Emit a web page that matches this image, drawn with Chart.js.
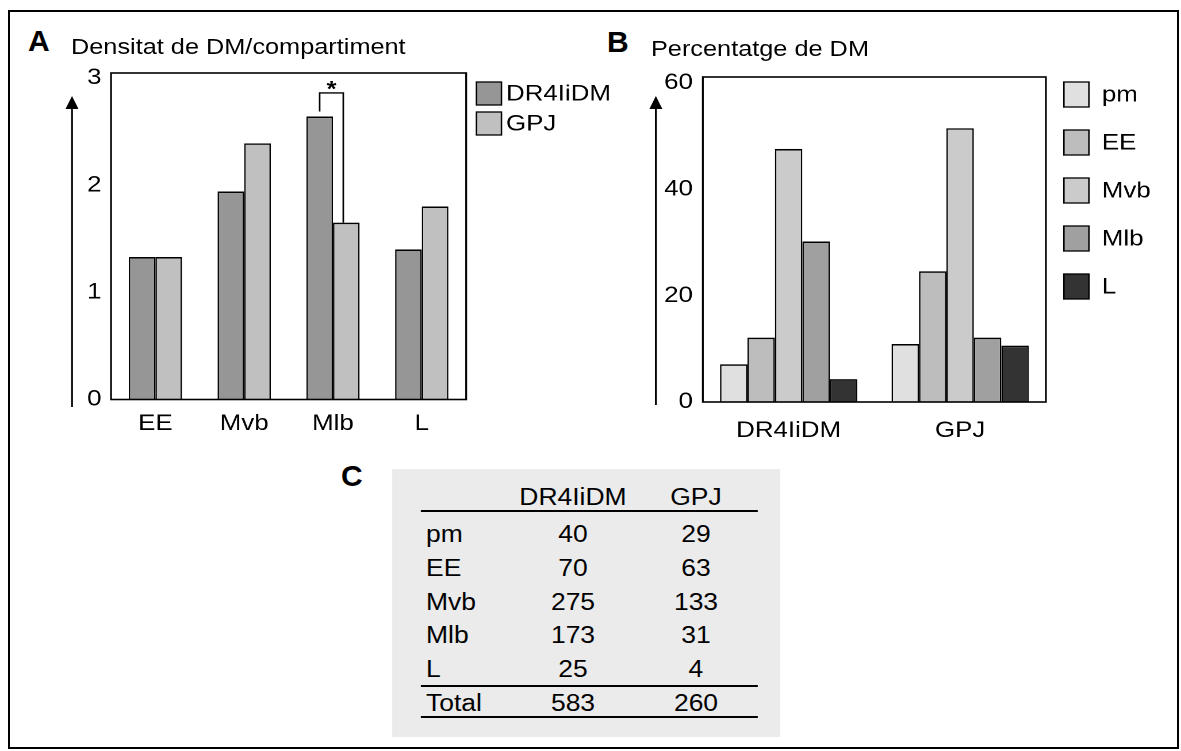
<!DOCTYPE html>
<html>
<head>
<meta charset="utf-8">
<title>Densitat i percentatge de DM</title>
<script src="https://cdn.jsdelivr.net/npm/chart.js@4.4.1/dist/chart.umd.min.js"></script>
<style>
  body { margin: 0; background: #fff; color: #000; font-family: "Liberation Sans", Arial, sans-serif; }
  #page { position: relative; width: 1181px; height: 751px; overflow: hidden; }
  #border { position: absolute; left: 8px; top: 10px; width: 1167px; height: 735px; border: 2px solid #000; }
  .letter { position: absolute; font-weight: bold; font-size: 30px; line-height: 30px; }
  /* la figura original esta estirada en horitzontal: l'escenari s'escala amb SX */
  #stage { position: absolute; left: 0; top: 0; height: 751px; transform-origin: 0 0; }
  .title { position: absolute; font-size: 22px; line-height: 30px; white-space: nowrap; }
  canvas { position: absolute; top: 0; }
  #tableBg { position: absolute; background: #ebebeb; }
  .cell { position: absolute; font-size: 23px; line-height: 30px; height: 30px; white-space: nowrap; }
  .num { text-align: center; }
  .rule { position: absolute; height: 2px; background: #000; }
</style>
</head>
<body>
<div id="page">
  <div id="border"></div>
  <div class="letter" style="left:28px; top:26px;">A</div>
  <div class="letter" style="left:607px; top:27px;">B</div>
  <div class="letter" style="left:341px; top:461px;">C</div>
  <div id="stage">
    <div class="title" id="titleA">Densitat de DM/compartiment</div>
    <div class="title" id="titleB">Percentatge de DM</div>
    <canvas id="chartA"></canvas>
    <canvas id="chartB"></canvas>
    <div id="tableBg"></div>
    <div id="tableC"></div>
  </div>
</div>
<script>
// 数据 - A
const A_CATEGORIES = ['EE', 'Mvb', 'Mlb', 'L'];
const A_DR4 = [1.33, 1.94, 2.64, 1.40];
const A_GPJ = [1.33, 2.39, 1.65, 1.80];
const A_TICKS = [0, 1, 2, 3];
const SIG_INDEX = 2;      // Mlb
const SIG_LEVEL = 2.86;

// 数据 - B
const B_GROUPS = ['DR4IiDM', 'GPJ'];
const B_COMPARTMENTS = ['pm', 'EE', 'Mvb', 'Mlb', 'L'];
const B_PM = [7.1, 10.9];
const B_EE = [12.1, 24.6];
const B_MVB = [47.6, 51.5];
const B_MLB = [30.2, 12.1];
const B_L = [4.3, 10.6];
const B_TICKS = [0, 20, 40, 60];

// 数据 - C
const TABLE_HEAD = ['DR4IiDM', 'GPJ'];
const TABLE_ROWS = ['pm', 'EE', 'Mvb', 'Mlb', 'L'];
const COUNT_DR4 = [40, 70, 275, 173, 25];
const COUNT_GPJ = [29, 63, 133, 31, 4];
const COUNT_TOTAL = [583, 260];

// 水平拉伸系数: 页面像素 -> 画布像素
const SX = 1.15;
const u = x => x / SX;

const FONT = { family: '"Liberation Sans", Arial, sans-serif', size: 22.5 };
const BAR_BORDER = { top: 1.6, left: 1.3, right: 1.3, bottom: 0 };

const stage = document.getElementById('stage');
stage.style.width = u(1181) + 'px';
stage.style.transform = 'scaleX(' + SX + ')';

function place(id, left, top, width, height) {
    const el = document.getElementById(id);
    el.style.left = u(left) + 'px';
    el.style.top = top + 'px';
    if (width != null) el.style.width = u(width) + 'px';
    if (height != null) el.style.height = height + 'px';
    return el;
}

place('titleA', 71, 32.4);
place('titleB', 651, 34.1);

// 画布尺寸 (页面像素)
const canvasA = place('chartA', 0, 0);
canvasA.width = u(625);
canvasA.height = 470;
const canvasB = place('chartB', 620, 0);
canvasB.width = u(1181 - 620);
canvasB.height = 470;

// 图框
const framePlugin = {
    id: 'frame',
    afterDatasetsDraw(chart) {
        const { ctx, chartArea: a } = chart;
        ctx.save();
        ctx.strokeStyle = '#000';
        ctx.lineWidth = 1.6;
        ctx.strokeRect(a.left, a.top, a.width, a.height);
        ctx.restore();
    }
};

// 纵轴箭头
const arrowPlugin = {
    id: 'axisArrow',
    afterDraw(chart, args, o) {
        const { ctx, chartArea: a } = chart;
        const x = a.left + u(o.dx);
        const tip = a.top + o.tip;
        const half = u(6.5);
        ctx.save();
        ctx.strokeStyle = '#000';
        ctx.fillStyle = '#000';
        ctx.lineWidth = 1.6;
        ctx.beginPath();
        ctx.moveTo(x, a.bottom + o.below);
        ctx.lineTo(x, tip + 10);
        ctx.stroke();
        ctx.beginPath();
        ctx.moveTo(x, tip);
        ctx.lineTo(x - half, tip + 13);
        ctx.lineTo(x + half, tip + 13);
        ctx.closePath();
        ctx.fill();
        ctx.restore();
    }
};

// 图例
const legendPlugin = {
    id: 'sideLegend',
    afterDraw(chart, args, o) {
        const { ctx, chartArea: a } = chart;
        const bw = u(o.boxW);
        ctx.save();
        ctx.font = FONT.size + 'px ' + FONT.family;
        ctx.textBaseline = 'middle';
        chart.data.datasets.forEach((ds, i) => {
            const x = a.right + u(o.dx);
            const y = o.top + i * o.step;
            ctx.fillStyle = ds.backgroundColor;
            ctx.fillRect(x, y, bw, o.boxH);
            ctx.strokeStyle = '#000';
            ctx.lineWidth = 1.3;
            ctx.strokeRect(x, y, bw, o.boxH);
            ctx.fillStyle = '#000';
            ctx.fillText(ds.label, x + bw + u(o.gap), y + o.boxH / 2 + 1);
        });
        ctx.restore();
    }
};

// 显著性标记
const bracketPlugin = {
    id: 'sigBracket',
    afterDatasetsDraw(chart, args, o) {
        const { ctx } = chart;
        const b0 = chart.getDatasetMeta(0).data[o.index];
        const b1 = chart.getDatasetMeta(1).data[o.index];
        const yTop = chart.scales.y.getPixelForValue(o.level);
        const xr = b1.x - u(3);
        ctx.save();
        ctx.strokeStyle = '#000';
        ctx.lineWidth = 1.4;
        ctx.beginPath();
        ctx.moveTo(b0.x, b0.y - 5);
        ctx.lineTo(b0.x, yTop);
        ctx.lineTo(xr, yTop);
        ctx.lineTo(xr, b1.y);
        ctx.stroke();
        ctx.fillStyle = '#000';
        ctx.font = 'bold 22px ' + FONT.family;
        ctx.textAlign = 'center';
        ctx.textBaseline = 'alphabetic';
        ctx.fillText('*', (b0.x + xr) / 2, yTop + 3.5);
        ctx.restore();
    }
};

function axisX(padding) {
    return {
        grid: { display: false, drawTicks: false },
        border: { display: false },
        ticks: { font: FONT, color: '#000', padding: padding },
        afterFit: s => { s.height = 40; }
    };
}

function axisY(max, tickValues, width, padding) {
    return {
        min: 0,
        max: max,
        grid: { display: false, drawTicks: false },
        border: { display: false },
        ticks: { font: FONT, color: '#000', padding: u(padding) },
        afterBuildTicks: s => { s.ticks = tickValues.map(v => ({ value: v })); },
        afterFit: s => { s.width = u(width); }
    };
}

// A: densitat per compartiment (area del grafic: x 111-466.7, y 73-399.5)
new Chart(canvasA, {
    type: 'bar',
    data: {
        labels: A_CATEGORIES,
        datasets: [
            { label: 'DR4IiDM', data: A_DR4, backgroundColor: '#969696' },
            { label: 'GPJ', data: A_GPJ, backgroundColor: '#c0c0c0' }
        ]
    },
    options: {
        responsive: false,
        animation: false,
        devicePixelRatio: 2,
        layout: { padding: { left: 0, top: 73, right: u(625 - 466.7), bottom: 470 - 399.5 - 40 } },
        datasets: {
            bar: { categoryPercentage: 0.6, barPercentage: 1, borderColor: '#000', borderWidth: BAR_BORDER }
        },
        scales: {
            x: axisX(11),
            y: axisY(3.046, A_TICKS, 111, 9.5)
        },
        plugins: {
            legend: { display: false },
            tooltip: { enabled: false },
            sideLegend: { dx: 10.3, top: 82, step: 30, boxW: 25, boxH: 23, gap: 4.5 },
            axisArrow: { dx: -39, tip: 23, below: 7.5 },
            sigBracket: { index: SIG_INDEX, level: SIG_LEVEL }
        }
    },
    plugins: [framePlugin, arrowPlugin, legendPlugin, bracketPlugin]
});

// B: percentatge de DM (area del grafic: x 703-1047, y 77-402)
const B_SERIES = [B_PM, B_EE, B_MVB, B_MLB, B_L];
const B_FILLS = ['#e0e0e0', '#bdbdbd', '#cbcbcb', '#a0a0a0', '#333333'];

new Chart(canvasB, {
    type: 'bar',
    data: {
        labels: B_GROUPS,
        datasets: B_COMPARTMENTS.map((name, i) => ({
            label: name,
            data: B_SERIES[i],
            backgroundColor: B_FILLS[i]
        }))
    },
    options: {
        responsive: false,
        animation: false,
        devicePixelRatio: 2,
        layout: { padding: { left: 0, top: 77, right: u(1181 - 1047), bottom: 470 - 402 - 40 } },
        datasets: {
            bar: { categoryPercentage: 0.8, barPercentage: 1, borderColor: '#000', borderWidth: BAR_BORDER }
        },
        scales: {
            x: axisX(15.5),
            y: axisY(61.13, B_TICKS, 703 - 620, 10)
        },
        plugins: {
            legend: { display: false },
            tooltip: { enabled: false },
            sideLegend: { dx: 18, top: 82, step: 48, boxW: 25, boxH: 25, gap: 13 },
            axisArrow: { dx: -47, tip: 19, below: 3 }
        }
    },
    plugins: [framePlugin, arrowPlugin, legendPlugin]
});

// C: taula de recomptes
function buildTable() {
    place('tableBg', 392, 469, 388, 268);
    const el = document.getElementById('tableC');
    const colX = [573, 696];
    const rowY = TABLE_ROWS.map((r, i) => 534 + i * 33.8);
    let html = '';
    const cell = (cls, left, cy, text, w) =>
        `<div class="cell ${cls}" style="left:${u(left)}px; top:${cy - 15}px;${w ? ' width:' + u(w) + 'px;' : ''}">${text}</div>`;
    const rule = y => `<div class="rule" style="left:${u(421)}px; width:${u(337)}px; top:${y}px;"></div>`;

    TABLE_HEAD.forEach((h, j) => { html += cell('num', colX[j] - 60, 497, h, 120); });
    html += rule(510);
    TABLE_ROWS.forEach((r, i) => {
        html += cell('', 426, rowY[i], r);
        html += cell('num', colX[0] - 60, rowY[i], COUNT_DR4[i], 120);
        html += cell('num', colX[1] - 60, rowY[i], COUNT_GPJ[i], 120);
    });
    html += rule(685);
    html += cell('', 426, 703, 'Total');
    COUNT_TOTAL.forEach((t, j) => { html += cell('num', colX[j] - 60, 703, t, 120); });
    html += rule(716);
    el.innerHTML = html;
}

buildTable();
</script>
</body>
</html>
